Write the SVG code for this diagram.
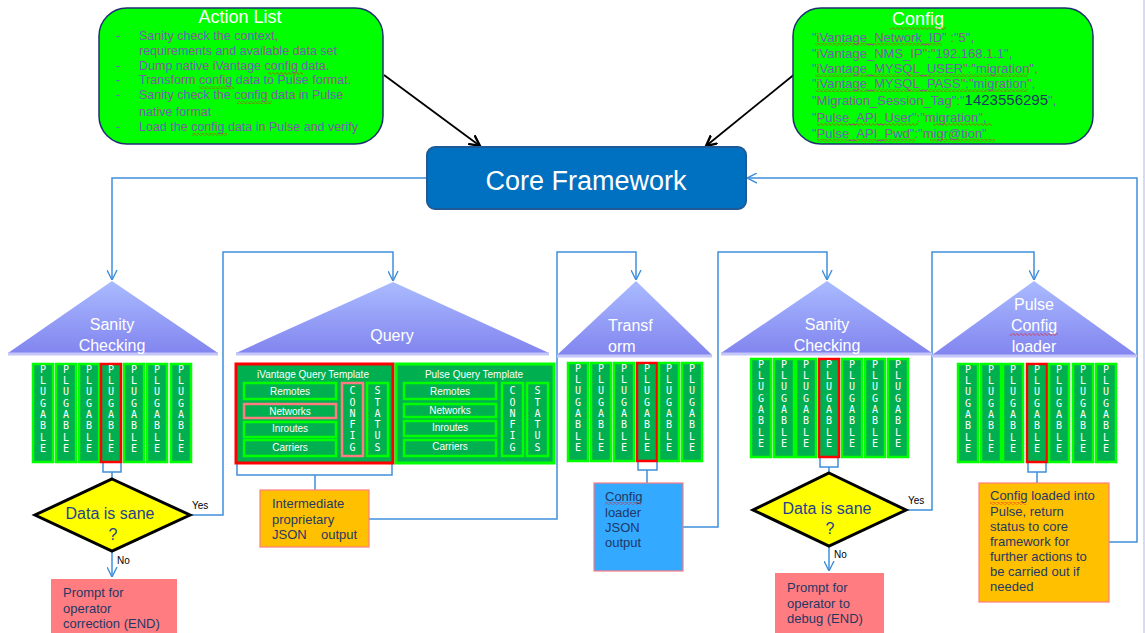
<svg xmlns="http://www.w3.org/2000/svg" xmlns:xlink="http://www.w3.org/1999/xlink" width="1145" height="633" viewBox="0 0 1145 633">
<style>
text { font-family: "Liberation Sans", Arial, sans-serif; }
.plg { fill:#00B050; stroke:#00FF00; stroke-width:2.5; }
.plr { fill:#00B050; stroke:#FF0000; stroke-width:2.5; }
.qbp { fill:#00B050; stroke:#FF7C80; stroke-width:2.5; }
.pl { font-family:"DejaVu Sans Mono", monospace; font-size:10px; fill:#fff; text-anchor:middle; }
.ql { font-size:10px; fill:#fff; text-anchor:middle; }
.tri { fill:url(#tg); }
.base { stroke:#C4C6FA; stroke-width:3; }
.tt { font-size:16px; fill:#fff; text-anchor:middle; }
.tts { font-size:16px; fill:#fff; text-anchor:start; }
.con { fill:none; stroke:#3F8FDB; stroke-width:1.5; }
.arw { marker-end:url(#va); }
.dia { fill:#FFFF00; stroke:#000; stroke-width:3; }
.dt { font-size:16px; fill:#1F3F8F; text-anchor:middle; }
.bt { font-size:13px; fill:#1F3864; }
.yn { font-size:10px; fill:#000; }
.al { font-size:12.5px; fill:#7B5EA7; }
.cf { font-size:13px; fill:#7B5EA7; }
.ttl { font-size:18px; fill:#fff; text-anchor:middle; }
.gbox { fill:#00FF00; stroke:#1F2F6F; stroke-width:1.5; }
.wv { fill:url(#wv); }
</style>
<defs>
<linearGradient id="tg" x1="0" y1="0" x2="0" y2="1">
<stop offset="0" stop-color="#AABBFF"/>
<stop offset="1" stop-color="#8285EF"/>
</linearGradient>
<pattern id="wv" width="4" height="3" patternUnits="userSpaceOnUse">
<path d="M0,1.5 L1,0.5 L3,2.5 L4,1.5" fill="none" stroke="#E02020" stroke-width="0.8"/>
</pattern>
<marker id="va" viewBox="0 0 10 10" refX="10" refY="5" markerWidth="10" markerHeight="11" markerUnits="userSpaceOnUse" orient="auto">
<path d="M0,0 L10,5 L0,10" fill="none" stroke="#3F8FDB" stroke-width="1.4"/>
</marker>
<marker id="ka" viewBox="0 0 10 10" refX="9" refY="5" markerWidth="12" markerHeight="12" markerUnits="userSpaceOnUse" orient="auto">
<path d="M0,0.5 L9,5 L0,9.5" fill="none" stroke="#000" stroke-width="2"/>
</marker>
<g id="plugL"><text class="pl"><tspan x="10" y="8.5">P</tspan><tspan x="10" y="20">L</tspan><tspan x="10" y="31">U</tspan><tspan x="10" y="42.5">G</tspan><tspan x="10" y="54">A</tspan><tspan x="10" y="65">B</tspan><tspan x="10" y="76.5">L</tspan><tspan x="10" y="88">E</tspan></text></g>
<g id="cfgL"><text class="pl"><tspan x="10.5" y="10.5">C</tspan><tspan x="10.5" y="22.5">O</tspan><tspan x="10.5" y="33.5">N</tspan><tspan x="10.5" y="44.5">F</tspan><tspan x="10.5" y="55.5">I</tspan><tspan x="10.5" y="67.5">G</tspan></text></g>
<g id="stL"><text class="pl"><tspan x="10.5" y="10.5">S</tspan><tspan x="10.5" y="22.5">T</tspan><tspan x="10.5" y="33.5">A</tspan><tspan x="10.5" y="44.5">T</tspan><tspan x="10.5" y="55.5">U</tspan><tspan x="10.5" y="67.5">S</tspan></text></g>
</defs>

<rect x="0" y="0" width="1145" height="633" fill="#fff"/>
<line x1="1144" y1="0" x2="1144" y2="633" stroke="#C0C0EC" stroke-width="1.2"/>

<!-- connectors -->
<g id="connectors">
<path class="con arw" d="M427,178 H112 V280"/>
<path class="con arw" d="M190,515 H223 V252 H393 V281"/>
<path class="con arw" d="M369,519 H557 V252 H636 V280"/>
<path class="con arw" d="M683,527 H718 V252 H827 V280"/>
<path class="con arw" d="M906,510 H932 V252 H1034 V280"/>
<path class="con arw" d="M1109,542 H1137 V178 H747"/>
<path class="con arw" d="M112,551 V577"/>
<path class="con arw" d="M829,546 V571"/>
<path class="con" d="M103,463 V472 H121 V463 M112,472 V478"/>
<path class="con" d="M237,463 V475 H392 V463 M315,475 V490"/>
<path class="con" d="M638,462 V470 H657 V462 M647,470 V483"/>
<path class="con" d="M820,458 V467 H838 V458 M829,467 V473"/>
<path class="con" d="M1028,462 V472 H1046 V462 M1037,472 V483"/>
<path d="M384,75 L480,146" fill="none" stroke="#000" stroke-width="1.8" marker-end="url(#ka)"/>
<path d="M796,73 L706,146" fill="none" stroke="#000" stroke-width="1.8" marker-end="url(#ka)"/>
<text class="yn" x="192" y="509">Yes</text>
<text class="yn" x="117" y="564">No</text>
<text class="yn" x="908" y="504">Yes</text>
<text class="yn" x="834" y="558">No</text>
</g>

<!-- Action List -->
<g id="action-list">
<rect class="gbox" x="99" y="8" width="284" height="136" rx="28"/>
<text class="ttl" x="240" y="23">Action List</text>
<text class="al" x="116" y="40">-</text>
<text class="al" x="116" y="70">-</text>
<text class="al" x="116" y="84">-</text>
<text class="al" x="116" y="99">-</text>
<text class="al" x="116" y="131">-</text>
<text class="al" x="139" y="40">Sanity check the context,</text>
<text class="al" x="139" y="55">requirements and available  data set</text>
<text class="al" x="139" y="70">Dump native  iVantage config data.</text>
<text class="al" x="139" y="84">Transform config data to Pulse format.</text>
<text class="al" x="139" y="99">Sanity check the config data in Pulse</text>
<text class="al" x="139" y="116">native  format</text>
<text class="al" x="139" y="131">Load the config data in Pulse and verify</text>
<rect class="wv" x="268" y="72" width="35" height="3"/>
<rect class="wv" x="199" y="86" width="35" height="3"/>
<rect class="wv" x="237" y="101" width="35" height="3"/>
<rect class="wv" x="192" y="133" width="35" height="3"/>
</g>

<!-- Config -->
<g id="config">
<rect class="gbox" x="793" y="8" width="300" height="136" rx="28"/>
<text class="ttl" x="918" y="25">Config</text>
<rect class="wv" x="890" y="27" width="56" height="3"/>
<text class="cf" x="812" y="42">"iVantage_Network_ID" :"5",</text>
<text class="cf" x="812" y="58">"iVantage_NMS_IP":"192.168.1.1",</text>
<text class="cf" x="812" y="73">"iVantage_MYSQL_USER":"migration",</text>
<text class="cf" x="812" y="88">"iVantage_MYSQL_PASS":"migration",</text>
<text class="cf" x="812" y="105">"Migration_Session_Tag":"<tspan fill="#1F3864" font-size="15">1423556295</tspan>",</text>
<text class="cf" x="812" y="122">"Pulse_API_User":"migration",</text>
<text class="cf" x="812" y="138">"Pulse_API_Pwd":"migr@tion"</text>
<rect class="wv" x="815" y="43" width="127" height="3"/>
<rect class="wv" x="815" y="74" width="213" height="3"/>
<rect class="wv" x="815" y="89" width="213" height="3"/>
<rect class="wv" x="817" y="123" width="101" height="3"/>
<rect class="wv" x="933" y="123" width="59" height="3"/>
<rect class="wv" x="817" y="139" width="98" height="3"/>
<rect class="wv" x="930" y="139" width="65" height="3"/>
</g>

<!-- Core Framework -->
<g id="core-framework">
<rect x="427" y="147" width="319" height="62" rx="8" fill="#0070C0" stroke="#1F5A96" stroke-width="2"/>
<text x="586" y="190" font-size="27" fill="#fff" text-anchor="middle">Core Framework</text>
</g>

<!-- Sanity Checking 1 -->
<g id="sanity-1">
<polygon class="tri" points="112,281 218,353 8,353"/>
<line class="base" x1="8" y1="354" x2="218" y2="354"/>
<text class="tt" x="112" y="330">Sanity</text>
<text class="tt" x="112" y="351">Checking</text>
<rect class="plg" x="33" y="364" width="20" height="98"/><use href="#plugL" x="33" y="364"/>
<rect class="plg" x="56" y="364" width="20" height="98"/><use href="#plugL" x="56" y="364"/>
<rect class="plg" x="79" y="364" width="20" height="98"/><use href="#plugL" x="79" y="364"/>
<rect class="plr" x="101" y="364" width="20" height="98"/><use href="#plugL" x="101" y="364"/>
<rect class="plg" x="124" y="364" width="20" height="98"/><use href="#plugL" x="124" y="364"/>
<rect class="plg" x="147" y="364" width="20" height="98"/><use href="#plugL" x="147" y="364"/>
<rect class="plg" x="171" y="364" width="20" height="98"/><use href="#plugL" x="171" y="364"/>
</g>

<g id="decision-1">
<polygon class="dia" points="112,479 190,515 112,551 35,515"/>
<text class="dt" x="110" y="519">Data  is sane</text>
<text class="dt" x="113" y="540">?</text>
</g>

<g id="prompt-1">
<rect x="51" y="579" width="126" height="56" fill="#FF7C80"/>
<text class="bt" x="63" y="597">Prompt for</text>
<text class="bt" x="63" y="613">operator</text>
<text class="bt" x="63" y="628">correction (END)</text>
</g>

<!-- Query -->
<g id="query">
<polygon class="tri" points="393,282 549,353 236,353"/>
<line class="base" x1="236" y1="354" x2="549" y2="354"/>
<text class="tt" x="392" y="341">Query</text>
</g>

<g id="ivantage-template">
<rect x="236" y="364" width="157" height="99" fill="#00B050" stroke="#FF0000" stroke-width="3"/>
<text class="ql" x="313" y="378">iVantage  Query  Template</text>
<rect class="plg" x="244" y="383" width="92" height="16"/><text class="ql" x="290" y="395">Remotes</text>
<rect class="qbp" x="244" y="404" width="92" height="14"/><text class="ql" x="290" y="415">Networks</text>
<rect class="plg" x="244" y="422" width="92" height="15"/><text class="ql" x="290" y="432">Inroutes</text>
<rect class="plg" x="244" y="440" width="92" height="16"/><text class="ql" x="290" y="451">Carriers</text>
<rect class="qbp" x="342" y="383" width="21" height="73"/><use href="#cfgL" x="342" y="383"/>
<rect class="plg" x="367" y="383" width="21" height="73"/><use href="#stL" x="367" y="383"/>
</g>

<g id="pulse-template">
<rect x="396" y="364" width="158" height="99" fill="#00B050" stroke="#00FF00" stroke-width="3"/>
<text class="ql" x="474" y="378">Pulse  Query  Template</text>
<rect class="plg" x="404" y="383" width="92" height="16"/><text class="ql" x="450" y="395">Remotes</text>
<rect class="plg" x="404" y="404" width="92" height="13"/><text class="ql" x="450" y="414">Networks</text>
<rect class="plg" x="404" y="421" width="92" height="15"/><text class="ql" x="450" y="431">Inroutes</text>
<rect class="plg" x="404" y="440" width="92" height="16"/><text class="ql" x="450" y="450">Carriers</text>
<rect class="plg" x="502" y="383" width="21" height="73"/><use href="#cfgL" x="502" y="383"/>
<rect class="plg" x="527" y="383" width="21" height="73"/><use href="#stL" x="527" y="383"/>
</g>

<g id="intermediate-output">
<rect x="260" y="490" width="109" height="57" fill="#FFC000" stroke="#FF7C80" stroke-width="1.2"/>
<text class="bt" x="272" y="508">Intermediate</text>
<text class="bt" x="272" y="524">proprietary</text>
<text class="bt" x="272" y="539">JSON</text>
<text class="bt" x="321" y="539">output</text>
</g>

<!-- Transform -->
<g id="transform">
<polygon class="tri" points="636,281 712,355 557,355"/>
<line class="base" x1="557" y1="356" x2="712" y2="356"/>
<text class="tts" x="608" y="331">Transf</text>
<text class="tts" x="608" y="352">orm</text>
<rect class="plg" x="568" y="363" width="20" height="98"/><use href="#plugL" x="568" y="363"/>
<rect class="plg" x="591" y="363" width="20" height="98"/><use href="#plugL" x="591" y="363"/>
<rect class="plg" x="614" y="363" width="20" height="98"/><use href="#plugL" x="614" y="363"/>
<rect class="plr" x="637" y="363" width="20" height="98"/><use href="#plugL" x="637" y="363"/>
<rect class="plg" x="659" y="363" width="20" height="98"/><use href="#plugL" x="659" y="363"/>
<rect class="plg" x="682" y="363" width="20" height="98"/><use href="#plugL" x="682" y="363"/>
</g>

<g id="config-loader-output">
<rect x="594" y="483" width="89" height="88" fill="#33A9FF" stroke="#FF7C80" stroke-width="1.2"/>
<text class="bt" x="605" y="501">Config</text>
<rect class="wv" x="605" y="502" width="36" height="3"/>
<text class="bt" x="605" y="517">loader</text>
<text class="bt" x="605" y="532">JSON</text>
<text class="bt" x="605" y="547">output</text>
</g>

<!-- Sanity Checking 2 -->
<g id="sanity-2">
<polygon class="tri" points="827,281 932,353 721,353"/>
<line class="base" x1="721" y1="354" x2="932" y2="354"/>
<text class="tt" x="827" y="330">Sanity</text>
<text class="tt" x="827" y="351">Checking</text>
<rect class="plg" x="751" y="359" width="20" height="98"/><use href="#plugL" x="751" y="359"/>
<rect class="plg" x="774" y="359" width="20" height="98"/><use href="#plugL" x="774" y="359"/>
<rect class="plg" x="796" y="359" width="20" height="98"/><use href="#plugL" x="796" y="359"/>
<rect class="plr" x="819" y="359" width="20" height="98"/><use href="#plugL" x="819" y="359"/>
<rect class="plg" x="842" y="359" width="20" height="98"/><use href="#plugL" x="842" y="359"/>
<rect class="plg" x="865" y="359" width="20" height="98"/><use href="#plugL" x="865" y="359"/>
<rect class="plg" x="888" y="359" width="20" height="98"/><use href="#plugL" x="888" y="359"/>
</g>

<g id="decision-2">
<polygon class="dia" points="829,473 906,510 829,546 753,510"/>
<text class="dt" x="827" y="514">Data  is sane</text>
<text class="dt" x="830" y="534">?</text>
</g>

<g id="prompt-2">
<rect x="775" y="573" width="109" height="62" fill="#FF7C80"/>
<text class="bt" x="787" y="592">Prompt for</text>
<text class="bt" x="787" y="608">operator to</text>
<text class="bt" x="787" y="623">debug (END)</text>
</g>

<!-- Pulse Config loader -->
<g id="pulse-config-loader">
<polygon class="tri" points="1034,281 1137,355 932,355"/>
<line class="base" x1="932" y1="356" x2="1137" y2="356"/>
<text class="tt" x="1034" y="310">Pulse</text>
<text class="tt" x="1034" y="331">Config</text>
<rect class="wv" x="1010" y="333" width="48" height="3"/>
<text class="tt" x="1034" y="352">loader</text>
<rect class="plg" x="958" y="364" width="20" height="98"/><use href="#plugL" x="958" y="364"/>
<rect class="plg" x="981" y="364" width="20" height="98"/><use href="#plugL" x="981" y="364"/>
<rect class="plg" x="1003" y="364" width="20" height="98"/><use href="#plugL" x="1003" y="364"/>
<rect class="plr" x="1027" y="364" width="20" height="98"/><use href="#plugL" x="1027" y="364"/>
<rect class="plg" x="1049" y="364" width="20" height="98"/><use href="#plugL" x="1049" y="364"/>
<rect class="plg" x="1073" y="364" width="20" height="98"/><use href="#plugL" x="1073" y="364"/>
<rect class="plg" x="1096" y="364" width="20" height="98"/><use href="#plugL" x="1096" y="364"/>
</g>

<g id="config-loaded">
<rect x="979" y="483" width="130" height="119" fill="#FFC000" stroke="#FF7C80" stroke-width="1.2"/>
<text class="bt" x="990" y="500">Config loaded into</text>
<rect class="wv" x="990" y="502" width="36" height="3"/>
<text class="bt" x="990" y="516">Pulse, return</text>
<text class="bt" x="990" y="531">status to core</text>
<text class="bt" x="990" y="546">framework for</text>
<text class="bt" x="990" y="561">further actions to</text>
<text class="bt" x="990" y="576">be carried out if</text>
<text class="bt" x="990" y="591">needed</text>
</g>
</svg>
